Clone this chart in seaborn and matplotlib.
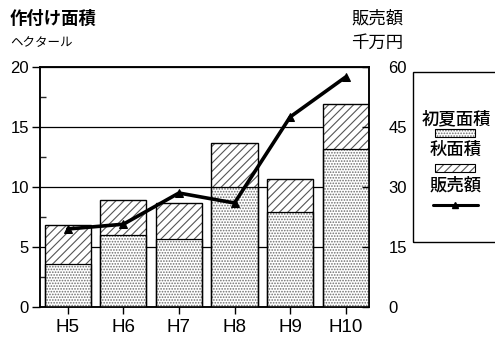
import numpy as np
import pandas as pd
import matplotlib
matplotlib.use("Agg")
import matplotlib.pyplot as plt
from matplotlib.patches import Rectangle
from matplotlib.lines import Line2D
import seaborn as sns

# 年度別の作付面積（ヘクタール）と販売額（千万円）
years = ["H5", "H6", "H7", "H8", "H9", "H10"]
early_summer = [3.6, 6.0, 5.7, 10.0, 7.9, 13.2]
autumn = [3.2, 2.9, 3.0, 3.7, 2.8, 3.7]
sales = [19.5, 20.7, 28.5, 26.0, 47.5, 57.5]

sns.set_theme(style="white")
plt.rcParams["font.family"] = ["Liberation Sans", "Noto Sans CJK JP"]
plt.rcParams["hatch.linewidth"] = 0.8

DOT_COLOR = "#6e6e6e"
LINE_HATCH_COLOR = "#555555"

df = pd.DataFrame({
    "year": years,
    "early": early_summer,
    "total": np.array(early_summer) + np.array(autumn),
    "sales": sales,
})

fig = plt.figure(figsize=(4.95, 3.38), dpi=100)
ax = fig.add_axes([40 / 495, 1 - 307 / 338, 329 / 495, 240 / 338])
ax.set_axisbelow(True)

# 秋面積（積み上げ上段）→ 初夏面積（下段）
sns.barplot(data=df, x="year", y="total", ax=ax, color="white", width=0.83,
            edgecolor=LINE_HATCH_COLOR, linewidth=0, hatch="////", zorder=2)
sns.barplot(data=df, x="year", y="early", ax=ax, color="white", width=0.83,
            edgecolor=DOT_COLOR, linewidth=0, hatch="......", zorder=3)
# 枠線
sns.barplot(data=df, x="year", y="total", ax=ax, fill=False, width=0.83,
            edgecolor="black", linewidth=1.0, zorder=4)
sns.barplot(data=df, x="year", y="early", ax=ax, fill=False, width=0.83,
            edgecolor="black", linewidth=0.9, zorder=4)

ax.set_ylim(0, 20)
ax.set_yticks([0, 5, 10, 15, 20])
ax.set_yticks([2.5, 7.5, 12.5, 17.5], minor=True)
ax.yaxis.grid(True, which="major", color="black", linewidth=0.9)
ax.set_xlabel("")
ax.set_ylabel("")
for s in ax.spines.values():
    s.set_color("black")
    s.set_linewidth(1.1)
ax.tick_params(axis="y", which="major", direction="out", length=6, width=1,
               labelsize=12, pad=2, left=True, colors="black")
ax.tick_params(axis="y", which="minor", direction="in", length=4, width=1, left=True)
ax.tick_params(axis="x", direction="out", length=5, width=1, labelsize=13.5,
               pad=4, bottom=True, colors="black")

ax2 = ax.twinx()
sns.lineplot(x=np.arange(len(years)), y=sales, ax=ax2, color="black",
             linewidth=2.6, marker="^", markersize=6, markeredgecolor="black", zorder=5)
ax2.set_ylim(0, 60)
ax2.set_yticks([0, 15, 30, 45, 60])
ax2.tick_params(axis="y", direction="in", length=5, width=1, labelsize=12,
                pad=14, right=True, colors="black")
ax2.set_ylabel("")
for s in ax2.spines.values():
    s.set_color("black")
    s.set_linewidth(1.1)
ax.set_xlim(-0.5, 5.42)

# 軸の見出し
fig.text(10 / 495, 1 - 18 / 338, "作付け面積", fontsize=12.5, fontweight="bold",
         va="center", ha="left", color="black")
fig.text(10 / 495, 1 - 43 / 338, "ヘクタール", fontsize=9, va="center", ha="left",
         color="black")
fig.text(377 / 495, 1 - 18 / 338, "販売額", fontsize=12.5, va="center",
         ha="center", color="black")
fig.text(377 / 495, 1 - 43 / 338, "千万円", fontsize=12.5, va="center",
         ha="center", color="black")

# 凡例
fig.patches.append(Rectangle((413 / 495, 1 - 242 / 338), 90 / 495, 170 / 338,
                             transform=fig.transFigure, fill=False,
                             edgecolor="black", linewidth=1.0))
cx = 456 / 495
legend_font = dict(fontsize=12.5, fontweight="medium", ha="center",
                   va="center", color="black")
fig.text(cx, 1 - 119 / 338, "初夏面積", **legend_font)
fig.text(cx, 1 - 150 / 338, "秋面積", **legend_font)
fig.text(cx, 1 - 185 / 338, "販売額", **legend_font)
for hatch, hc, ytop in [("......", DOT_COLOR, 129), ("////", LINE_HATCH_COLOR, 164)]:
    fig.patches.append(Rectangle((435 / 495, 1 - (ytop + 7.5) / 338), 40 / 495, 7.5 / 338,
                                 transform=fig.transFigure, facecolor="white",
                                 edgecolor=hc, hatch=hatch, linewidth=0))
    fig.patches.append(Rectangle((435 / 495, 1 - (ytop + 7.5) / 338), 40 / 495, 7.5 / 338,
                                 transform=fig.transFigure, fill=False,
                                 edgecolor="black", linewidth=0.8))
fig.lines.append(Line2D([433 / 495, 478 / 495], [1 - 205 / 338, 1 - 205 / 338],
                        transform=fig.transFigure, color="black", linewidth=2.2))
fig.lines.append(Line2D([455 / 495], [1 - 205 / 338], transform=fig.transFigure,
                        color="black", marker="^", markersize=5))

fig.savefig("out.png", dpi=100, facecolor="white")
